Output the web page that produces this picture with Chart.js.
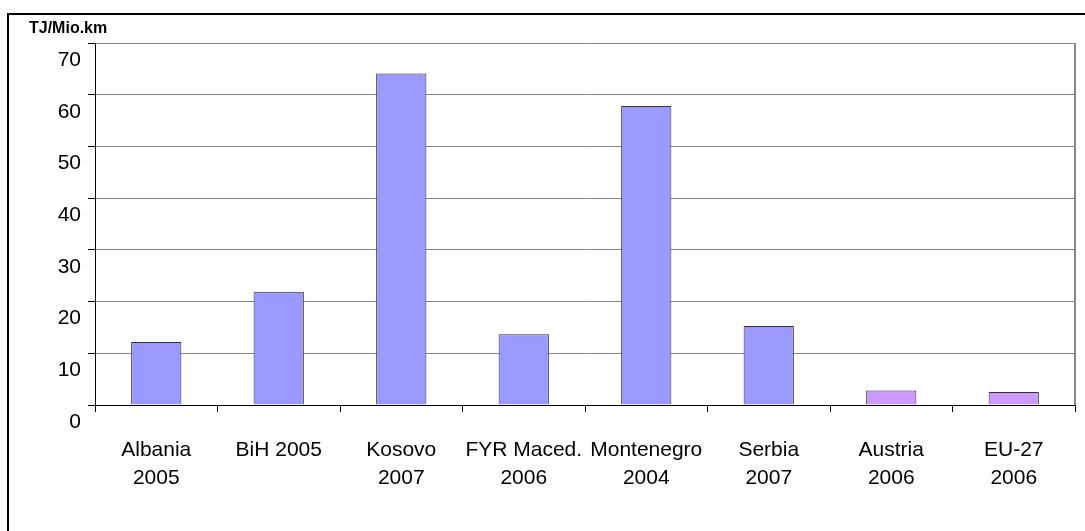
<!DOCTYPE html>
<html>
<head>
<meta charset="utf-8">
<script src="https://cdn.jsdelivr.net/npm/chart.js@4/dist/chart.umd.min.js"></script>
<style>
  html, body { margin: 0; padding: 0; background: #fff; }
  #wrap { position: relative; width: 1085px; height: 531px; }
</style>
</head>
<body>
<div id="wrap"><canvas id="chart"></canvas></div>
<script>
var labels = [
  ["Albania", "2005"],
  "BiH 2005",
  ["Kosovo", "2007"],
  ["FYR Maced.", "2006"],
  ["Montenegro", "2004"],
  ["Serbia", "2007"],
  ["Austria", "2006"],
  ["EU-27", "2006"]
];
var values = [12.2, 21.9, 64.1, 13.7, 57.8, 15.3, 2.8, 2.5];
var barColors = ["#9999FF", "#9999FF", "#9999FF", "#9999FF", "#9999FF", "#9999FF", "#CC99FF", "#CC99FF"];
var unitLabel = "TJ/Mio.km";

// frame: outer box (top + left) and grey right edge of the plot
var framePlugin = {
  id: "frame",
  beforeDraw: function(chart) {
    var ctx = chart.ctx;
    ctx.save();
    ctx.strokeStyle = "#000";
    ctx.lineWidth = 2;
    ctx.beginPath();
    ctx.moveTo(chart.width, 14);
    ctx.lineTo(8, 14);
    ctx.lineTo(8, chart.height);
    ctx.stroke();
    ctx.restore();
  },
  afterDatasetsDraw: function(chart) {
    var a = chart.chartArea;
    var ctx = chart.ctx;
    ctx.save();
    ctx.strokeStyle = "#888";
    ctx.lineWidth = 2;
    ctx.beginPath();
    ctx.moveTo(a.right, a.top);
    ctx.lineTo(a.right, a.bottom);
    ctx.stroke();
    ctx.restore();
  }
};

Chart.defaults.font.family = "'Liberation Sans', Arial, sans-serif";
Chart.defaults.color = "#000";

new Chart(document.getElementById("chart"), {
  type: "bar",
  data: {
    labels: labels,
    datasets: [{
      data: values,
      backgroundColor: barColors,
      borderColor: "#333",
      borderWidth: 1,
      barPercentage: 0.41,
      categoryPercentage: 1
    }]
  },
  options: {
    responsive: true,
    maintainAspectRatio: false,
    animation: false,
    layout: { padding: { left: 29, right: 10, top: 0, bottom: 0 } },
    plugins: {
      legend: { display: false },
      tooltip: { enabled: false },
      title: {
        display: true,
        text: unitLabel,
        align: "start",
        color: "#000",
        font: { size: 16, weight: "bold" },
        padding: { top: 19, bottom: 4.8 }
      }
    },
    scales: {
      x: {
        grid: {
          drawOnChartArea: false,
          tickLength: 7,
          tickColor: "#000"
        },
        border: { color: "#000", width: 1 },
        ticks: {
          font: { size: 21, lineHeight: 1.35 },
          padding: 24,
          maxRotation: 0,
          autoSkip: false
        },
        afterFit: function(axis) { axis.height = 126; }
      },
      y: {
        min: 0,
        max: 70,
        grid: {
          color: "#888",
          tickColor: "#000",
          tickLength: 7
        },
        border: { color: "#000", width: 1 },
        ticks: {
          stepSize: 10,
          font: { size: 21 },
          padding: 7,
          labelOffset: 17
        },
        afterFit: function(axis) { axis.width = 66; }
      }
    }
  },
  plugins: [framePlugin]
});
</script>
</body>
</html>
